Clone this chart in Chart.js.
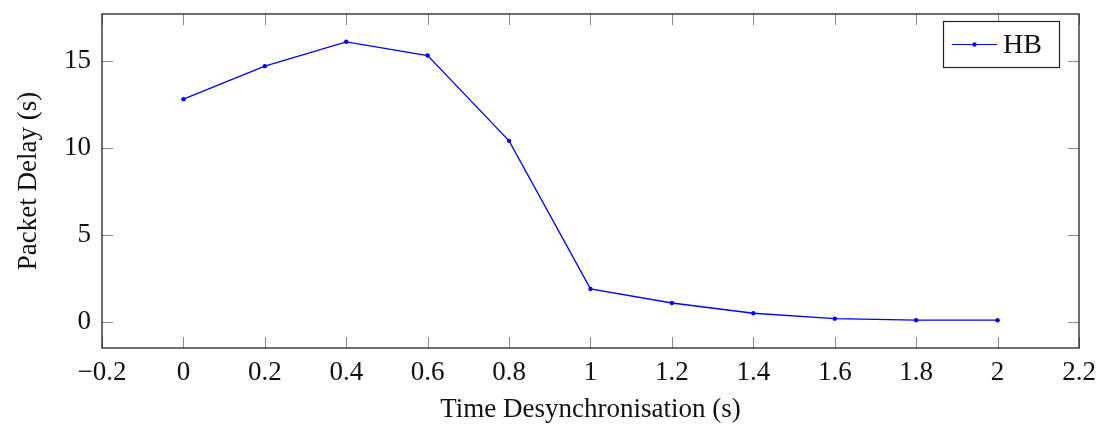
<!DOCTYPE html>
<html>
<head>
<meta charset="utf-8">
<script src="https://cdn.jsdelivr.net/npm/chart.js@4/dist/chart.umd.min.js"></script>
<style>
html,body{margin:0;padding:0;background:#fff;}
#wrap{width:1108px;height:426px;position:relative;}
</style>
</head>
<body>
<div id="wrap"><canvas id="c" width="1108" height="426"></canvas></div>
<script>
const xValues = [0, 0.2, 0.4, 0.6, 0.8, 1.0, 1.2, 1.4, 1.6, 1.8, 2.0];
const hbDelay = [12.82, 14.72, 16.12, 15.33, 10.42, 1.9, 1.09, 0.5, 0.19, 0.1, 0.1];
const xTicks = [-0.2, 0, 0.2, 0.4, 0.6, 0.8, 1, 1.2, 1.4, 1.6, 1.8, 2, 2.2];
const yTicks = [0, 5, 10, 15];
const seriesLabel = 'HB';
const xTitle = 'Time Desynchronisation (s)';
const yTitle = 'Packet Delay (s)';

const FONT = '"Liberation Serif", "Times New Roman", serif';

function fmt(v) {
  const r = Math.round(v * 10) / 10;
  let s = String(r);
  if (r < 0) s = '\u2212' + String(-r);
  return s;
}

const framePlugin = {
  id: 'frame',
  afterDraw(chart) {
    const ctx = chart.ctx;
    const a = chart.chartArea;
    const xs = chart.scales.x, ys = chart.scales.y;
    const tl = 11;
    ctx.save();
    ctx.strokeStyle = '#8a8a8a';
    ctx.lineWidth = 1;
    ctx.beginPath();
    xTicks.forEach(v => {
      const px = Math.round(xs.getPixelForValue(v)) + 0.5;
      ctx.moveTo(px, a.bottom); ctx.lineTo(px, a.bottom - tl);
      ctx.moveTo(px, a.top); ctx.lineTo(px, a.top + tl);
    });
    yTicks.forEach(v => {
      const py = Math.round(ys.getPixelForValue(v)) + 0.5;
      ctx.moveTo(a.left, py); ctx.lineTo(a.left + tl, py);
      ctx.moveTo(a.right, py); ctx.lineTo(a.right - tl, py);
    });
    ctx.stroke();
    ctx.strokeStyle = '#222';
    ctx.lineWidth = 1.3;
    ctx.strokeRect(a.left, a.top, a.right - a.left, a.bottom - a.top);

    // legend
    const bx = 943, by = 21, bw = 116, bh = 46;
    ctx.fillStyle = '#fff';
    ctx.fillRect(bx, by, bw, bh);
    ctx.strokeStyle = '#222';
    ctx.lineWidth = 1.2;
    ctx.strokeRect(bx + 0.5, by + 0.5, bw, bh);
    const ly = by + bh / 2 + 0.5;
    ctx.strokeStyle = '#0000ff';
    ctx.lineWidth = 1.2;
    ctx.beginPath();
    ctx.moveTo(952, ly); ctx.lineTo(997, ly);
    ctx.stroke();
    ctx.fillStyle = '#0000ff';
    ctx.beginPath();
    ctx.arc(974.5, ly, 2.2, 0, Math.PI * 2);
    ctx.fill();
    ctx.fillStyle = '#111';
    ctx.font = '28px ' + FONT;
    ctx.textBaseline = 'middle';
    ctx.textAlign = 'left';
    ctx.fillText(chart.data.datasets[0].label, 1003, ly + 1);
    ctx.restore();
  }
};

new Chart(document.getElementById('c'), {
  type: 'line',
  data: {
    labels: xValues,
    datasets: [{
      label: seriesLabel,
      data: xValues.map((x, i) => ({x: x, y: hbDelay[i]})),
      borderColor: '#0000ff',
      backgroundColor: '#0000ff',
      borderWidth: 1.3,
      pointRadius: 2.2,
      pointHoverRadius: 2.2,
      pointBorderWidth: 0,
      tension: 0,
      fill: false
    }]
  },
  options: {
    responsive: false,
    animation: false,
    devicePixelRatio: 1,
    layout: {padding: {left: 0, right: 29, top: 14, bottom: 0}},
    plugins: {legend: {display: false}, tooltip: {enabled: false}},
    scales: {
      x: {
        type: 'linear',
        min: -0.2, max: 2.2,
        afterBuildTicks: s => { s.ticks = xTicks.map(v => ({value: v})); },
        afterFit: s => { s.height = 78; s.paddingLeft = 0; s.paddingRight = 0; },
        grid: {display: false, drawTicks: false},
        border: {display: false},
        ticks: {
          padding: 9,
          color: '#111',
          font: {family: FONT, size: 27},
          maxRotation: 0,
          autoSkip: false,
          callback: v => fmt(v)
        },
        title: {display: true, text: xTitle, color: '#111', font: {family: FONT, size: 27}, padding: {top: 0, bottom: 0}}
      },
      y: {
        type: 'linear',
        min: -1.5, max: 17.72,
        afterBuildTicks: s => { s.ticks = yTicks.map(v => ({value: v})); },
        afterFit: s => { s.width = 102; s.paddingTop = 0; s.paddingBottom = 0; },
        grid: {display: false, drawTicks: false},
        border: {display: false},
        ticks: {
          padding: 11,
          color: '#111',
          font: {family: FONT, size: 27},
          callback: v => fmt(v)
        },
        title: {display: true, text: yTitle, color: '#111', font: {family: FONT, size: 27}, padding: {top: 13, bottom: 0}}
      }
    }
  },
  plugins: [framePlugin]
});
</script>
</body>
</html>
